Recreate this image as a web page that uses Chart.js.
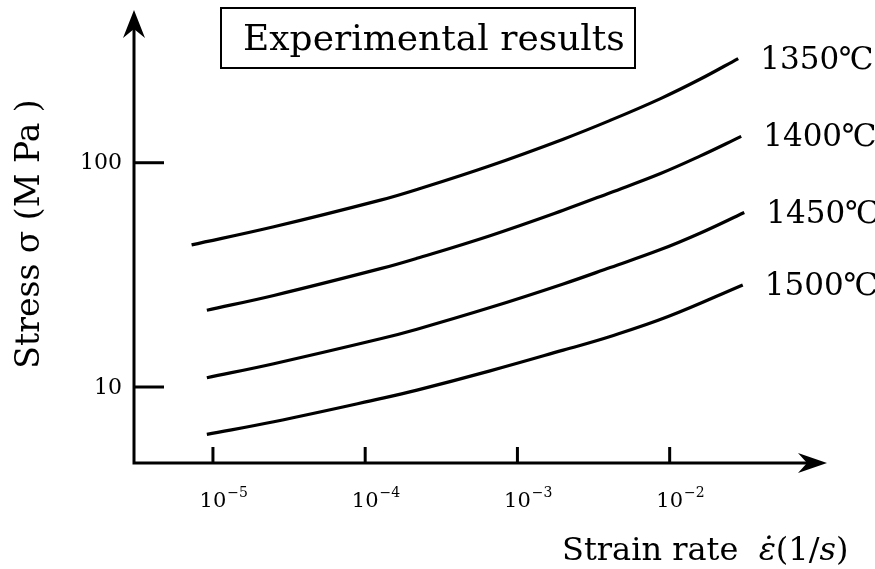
<!DOCTYPE html>
<html>
<head>
<meta charset="utf-8">
<script src="https://cdn.jsdelivr.net/npm/chart.js@4/dist/chart.umd.min.js"></script>
<style>
  html, body { margin: 0; background: #fff; }
  canvas { display: block; }
</style>
</head>
<body>
<canvas id="chart" width="875" height="569"></canvas>
<script>
// strain rate (1/s) and stress (MPa)
const rate1350 = [7.24e-6, 2.51e-5, 1.26e-4, 2.19e-4, 6.61e-4, 2.0e-3, 4.07e-3, 8.71e-3, 1.58e-2, 2.82e-2];
const stress1350 = [43.0, 51.8, 68.1, 76.0, 97.0, 127.4, 154.5, 193.2, 235.5, 291.4];

const rate1400 = [9.12e-6, 2.51e-5, 1.26e-4, 2.19e-4, 6.61e-4, 2.0e-3, 4.07e-3, 8.71e-3, 1.58e-2, 2.95e-2];
const stress1400 = [22.0, 25.6, 33.7, 37.5, 47.3, 61.4, 73.5, 89.5, 107, 131];

const rate1450 = [9.12e-6, 2.51e-5, 1.26e-4, 2.19e-4, 6.61e-4, 2.0e-3, 4.07e-3, 8.71e-3, 1.58e-2, 3.09e-2];
const stress1450 = [11.0, 12.7, 16.4, 18.1, 22.6, 28.8, 34.1, 41.0, 48.5, 60.0];

const rate1500 = [9.12e-6, 2.51e-5, 1.26e-4, 2.19e-4, 6.61e-4, 2.0e-3, 4.07e-3, 9.77e-3, 3.02e-2];
const stress1500 = [6.15, 7.0, 8.87, 9.68, 11.8, 14.6, 16.8, 20.6, 28.5];

const seriesNames = ['1350℃', '1400℃', '1450℃', '1500℃'];
const yTickValues = [10, 100];
const xTickExponents = [-5, -4, -3, -2];
const boxTitle = 'Experimental results';

const SERIF = '"DejaVu Serif", "Liberation Serif", serif';

const pairs = (xs, ys) => xs.map((v, i) => ({ x: v, y: ys[i] }));
const datasets = [
    pairs(rate1350, stress1350),
    pairs(rate1400, stress1400),
    pairs(rate1450, stress1450),
    pairs(rate1500, stress1500),
].map((data, i) => ({ label: seriesNames[i], data, borderColor: '#000', borderWidth: 3.2, pointRadius: 0, fill: false, tension: 0.4 }));

// axes with arrows, inward ticks, labels and the annotation box
const axesDecor = {
    id: 'axesDecor',
    afterDraw(chart) {
        const { ctx, chartArea: a, scales: { x, y } } = chart;
        ctx.save();
        ctx.strokeStyle = '#000';
        ctx.fillStyle = '#000';
        ctx.lineWidth = 3;
        ctx.lineCap = 'butt';

        ctx.beginPath();
        ctx.moveTo(a.left, a.top + 12);
        ctx.lineTo(a.left, a.bottom);
        ctx.lineTo(a.right - 12, a.bottom);
        ctx.stroke();

        ctx.beginPath();
        ctx.moveTo(a.left, a.top);
        ctx.lineTo(a.left - 11, a.top + 28);
        ctx.lineTo(a.left, a.top + 19);
        ctx.lineTo(a.left + 11, a.top + 28);
        ctx.closePath();
        ctx.fill();

        ctx.beginPath();
        ctx.moveTo(a.right, a.bottom);
        ctx.lineTo(a.right - 29, a.bottom - 10);
        ctx.lineTo(a.right - 20, a.bottom);
        ctx.lineTo(a.right - 29, a.bottom + 10);
        ctx.closePath();
        ctx.fill();

        // y ticks
        ctx.font = `22px ${SERIF}`;
        ctx.textAlign = 'right';
        ctx.textBaseline = 'middle';
        yTickValues.forEach(v => {
            const py = y.getPixelForValue(v);
            ctx.beginPath();
            ctx.moveTo(a.left, py);
            ctx.lineTo(a.left + 30, py);
            ctx.stroke();
            ctx.fillText(String(v), a.left - 12, py + 1);
        });

        // x ticks
        ctx.textBaseline = 'alphabetic';
        xTickExponents.forEach(e => {
            const px = x.getPixelForValue(Math.pow(10, e));
            ctx.beginPath();
            ctx.moveTo(px, a.bottom);
            ctx.lineTo(px, a.bottom - 16);
            ctx.stroke();
            ctx.font = `21px ${SERIF}`;
            ctx.textAlign = 'center';
            ctx.fillText('10', px, a.bottom + 44);
            const w = ctx.measureText('10').width;
            ctx.font = `14px ${SERIF}`;
            ctx.textAlign = 'left';
            ctx.fillText('−' + Math.abs(e), px + w / 2 + 1, a.bottom + 34);
        });

        // series labels next to curve ends
        ctx.font = `31px ${SERIF}`;
        ctx.textAlign = 'left';
        ctx.textBaseline = 'middle';
        chart.data.datasets.forEach(ds => {
            const last = ds.data[ds.data.length - 1];
            ctx.fillText(ds.label, x.getPixelForValue(last.x) + 22, y.getPixelForValue(last.y) + 2);
        });

        // annotation box
        ctx.lineWidth = 2;
        ctx.strokeRect(221, 8, 414, 60);
        ctx.font = `36px ${SERIF}`;
        ctx.textBaseline = 'alphabetic';
        ctx.fillText(boxTitle, 243, 50);

        // y title
        ctx.save();
        ctx.translate(30, 234);
        ctx.rotate(-Math.PI / 2);
        ctx.font = `33px ${SERIF}`;
        ctx.textAlign = 'center';
        ctx.textBaseline = 'middle';
        ctx.fillText('Stress σ (M Pa )', 0, 0);
        ctx.restore();

        // x title
        let cx = 562;
        const base = 560;
        const parts = [
            ['Strain rate  ', `32px ${SERIF}`],
            ['ε\u0307', `italic 32px ${SERIF}`],
            ['(1/', `32px ${SERIF}`],
            ['s', `italic 32px ${SERIF}`],
            [')', `32px ${SERIF}`],
        ];
        ctx.textAlign = 'left';
        parts.forEach(([t, f]) => {
            ctx.font = f;
            ctx.fillText(t, cx, base);
            cx += ctx.measureText(t).width;
        });
        ctx.restore();
    }
};

new Chart(document.getElementById('chart'), {
    type: 'line',
    data: { datasets },
    options: {
        responsive: false,
        animation: false,
        layout: { padding: { left: 134, top: 10, right: 48, bottom: 106 } },
        plugins: { legend: { display: false }, tooltip: { enabled: false } },
        scales: {
            x: { type: 'logarithmic', min: 3.03e-6, max: 0.108, display: false },
            y: { type: 'logarithmic', min: 4.583, max: 479.7, display: false },
        },
    },
    plugins: [axesDecor],
});
</script>
</body>
</html>
